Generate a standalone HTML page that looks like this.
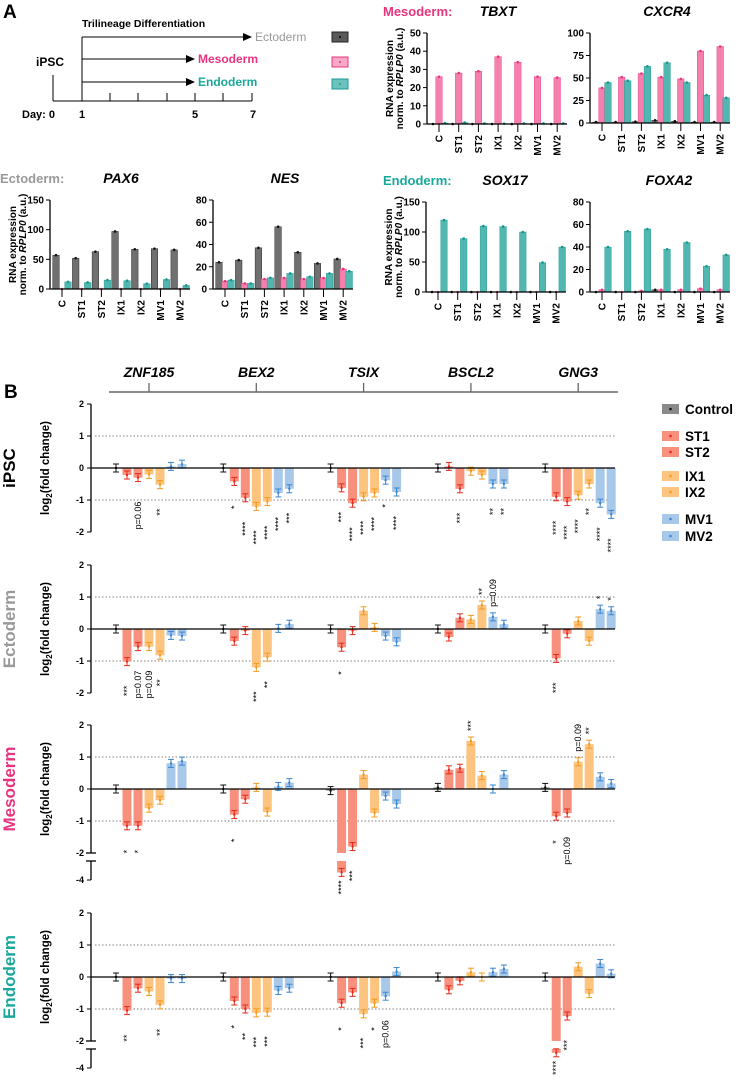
<!DOCTYPE html>
<html><head><meta charset="utf-8">
<style>
html,body{margin:0;padding:0;background:#fff;}
svg{display:block;font-family:"Liberation Sans",Arial,sans-serif;}
</style></head>
<body>
<svg id="fig" width="736" height="1077" viewBox="0 0 736 1077" xmlns="http://www.w3.org/2000/svg">
<g id="diagram">
  <text x="3" y="18" font-size="19" font-weight="bold">A</text>
  <text x="82" y="27" font-size="10.5" font-weight="bold">Trilineage Differentiation</text>
  <line x1="82" y1="37" x2="82" y2="101" stroke="#000" stroke-width="1"/>
  <line x1="82" y1="37" x2="245" y2="37" stroke="#000" stroke-width="1"/>
  <polygon points="243,33 252,37 243,41" fill="#000"/>
  <text x="255" y="41" font-size="12" fill="#999">Ectoderm</text>
  <line x1="82" y1="59" x2="188" y2="59" stroke="#000" stroke-width="1"/>
  <polygon points="186,55 195,59 186,63" fill="#000"/>
  <text x="198" y="63" font-size="12" font-weight="bold" fill="#e8347f">Mesoderm</text>
  <line x1="82" y1="82" x2="188" y2="82" stroke="#000" stroke-width="1"/>
  <polygon points="186,78 195,82 186,86" fill="#000"/>
  <text x="198" y="86" font-size="12" font-weight="bold" fill="#1aa89c">Endoderm</text>
  <text x="36" y="66" font-size="12" font-weight="bold">iPSC</text>
  <line x1="53" y1="75" x2="53" y2="101" stroke="#000" stroke-width="1"/>
  <line x1="53" y1="101" x2="252" y2="101" stroke="#000" stroke-width="1"/>
  <g stroke="#000" stroke-width="1">
    <line x1="110" y1="93" x2="110" y2="101"/><line x1="138" y1="93" x2="138" y2="101"/>
    <line x1="167" y1="93" x2="167" y2="101"/><line x1="195" y1="93" x2="195" y2="101"/>
    <line x1="223" y1="93" x2="223" y2="101"/><line x1="252" y1="93" x2="252" y2="101"/>
  </g>
  <g font-size="11" font-weight="bold">
    <text x="22" y="118">Day: 0</text>
    <text x="82" y="118" text-anchor="middle">1</text>
    <text x="195" y="118" text-anchor="middle">5</text>
    <text x="253" y="118" text-anchor="middle">7</text>
  </g>
  <g>
    <rect x="332" y="32" width="16" height="10" fill="#5a5a5a" stroke="#222"/>
    <circle cx="340" cy="37" r="1" fill="#000"/>
    <rect x="332" y="57" width="16" height="10" fill="#f9a9c6" stroke="#e8347f"/>
    <circle cx="340" cy="62" r="1" fill="#e8347f"/>
    <rect x="332" y="79" width="16" height="10" fill="#6cc3bd" stroke="#1a9b91"/>
    <circle cx="340" cy="84" r="1" fill="#1a9b91"/>
  </g>
</g>
<g id="panelA"></g>
<g id="panelB"></g>
</svg>
<script>
const catsA = ["C","ST1","ST2","IX1","IX2","MV1","MV2"];
const tbxtBlack = [0,0,0,0,0,0,0];
const tbxtPink  = [26,28,29,37,34,26,25.5];
const tbxtTeal  = [0.5,0.8,0.3,0.2,0.3,0.3,0.3];
const cxcr4Black = [1,1,1.5,3,2,1,1];
const cxcr4Pink  = [39,51,55,51,49,80,85];
const cxcr4Teal  = [45,47,63,67,45,31,28];
const pax6Black = [57,52,63,97,67,68,66];
const pax6Pink  = [0,0,0,0,0,0,0];
const pax6Teal  = [12,11,15,14,9,16,6];
const nesBlack = [24,26,37,56,33,23,27];
const nesPink  = [7,5,9,10,9,10,18];
const nesTeal  = [8,5,10,14,11,14,16];
const sox17Black = [0,0,0,0,0,0,0];
const sox17Pink  = [0,0,0,0,0,0,0];
const sox17Teal  = [120,89,110,109,100,49,75];
const foxa2Black = [0,0,0,2,0,0,0];
const foxa2Pink  = [2,0,1,2,2,3,2];
const foxa2Teal  = [40,54,56,38,44,23,33];
const ticksTBXT = [0,10,20,30,40,50];
const ticksCXCR4 = [0,25,50,75,100];
const ticksPAX6 = [0,50,100,150];
const ticksNES = [0,20,40,60,80];
const ticksSOX17 = [0,50,100,150];
const ticksFOXA2 = [0,20,40,60,80];

const genesB = ["ZNF185","BEX2","TSIX","BSCL2","GNG3"];
const groupsB = ["Control","ST1","ST2","IX1","IX2","MV1","MV2"];
const ipscZNF185=[0,-0.22,-0.3,-0.2,-0.52,0.05,0.12];
const ipscBEX2=[0,-0.42,-0.93,-1.2,-1.05,-0.78,-0.65];
const ipscTSIX=[0,-0.62,-1.1,-0.9,-0.78,-0.38,-0.75];
const ipscBSCL2=[0,0.05,-0.65,-0.1,-0.22,-0.5,-0.5];
const ipscGNG3=[0,-0.9,-1.05,-0.85,-0.5,-1.1,-1.45];
const ectoZNF185=[0,-1.02,-0.55,-0.55,-0.82,-0.2,-0.22];
const ectoBEX2=[0,-0.38,-0.05,-1.2,-0.88,0.02,0.15];
const ectoTSIX=[0,-0.57,-0.05,0.57,0.05,-0.22,-0.4];
const ectoBSCL2=[0,-0.25,0.35,0.3,0.75,0.38,0.15];
const ectoGNG3=[0,-0.92,-0.15,0.25,-0.38,0.62,0.57];
const mesoZNF185=[0,-1.15,-1.15,-0.6,-0.35,0.8,0.87];
const mesoBEX2=[0,-0.8,-0.32,0.05,-0.72,0.08,0.2];
const mesoTSIX=[-0.05,-3.2,-1.8,0.45,-0.75,-0.22,-0.47];
const mesoBSCL2=[0.05,0.6,0.65,1.5,0.42,0,0.45];
const mesoGNG3=[0.05,-0.85,-0.75,0.85,1.4,0.38,0.17];
const endoZNF185=[0,-1.05,-0.35,-0.45,-0.87,-0.05,-0.05];
const endoBEX2=[0,-0.75,-1.0,-1.12,-1.1,-0.42,-0.35];
const endoTSIX=[0,-0.82,-0.48,-1.15,-0.82,-0.6,0.17];
const endoBSCL2=[0,-0.4,-0.12,0.15,0,0.15,0.25];
const endoGNG3=[0,-2.4,-1.22,0.32,-0.52,0.42,0.1];
const ticksB = [2,1,0,-1,-2];
const sigIPSC=[[0,2,"p=0.06",0],[0,4,"**",0],[1,1,"*",0],[1,2,"****",0],[1,3,"****",0],[1,4,"****",0],[1,5,"****",0],[1,6,"***",0],[2,1,"***",0],[2,2,"****",0],[2,3,"****",0],[2,4,"****",0],[2,5,"*",0],[2,6,"****",0],[3,2,"***",0],[3,5,"**",0],[3,6,"**",0],[4,1,"****",0],[4,2,"****",0],[4,3,"****",0],[4,4,"**",0],[4,5,"****",0],[4,6,"****",0]];
const sigECTO=[[0,1,"***",0],[0,2,"p=0.07",0],[0,3,"p=0.09",0],[0,4,"**",0],[1,3,"***",0],[1,4,"**",0],[2,1,"*",0],[3,4,"**",1],[3,5,"p=0.09",1],[4,1,"***",0],[4,5,"*",1],[4,6,"*",1]];
const sigMESO=[[0,1,"*",0],[0,2,"*",0],[1,1,"*",0],[2,1,"****",0],[2,2,"***",0],[3,3,"***",1],[4,1,"*",0],[4,2,"p=0.09",0],[4,3,"p=0.09",1],[4,4,"**",1]];
const sigENDO=[[0,1,"**",0],[0,4,"**",0],[1,1,"*",0],[1,2,"**",0],[1,3,"***",0],[1,4,"***",0],[2,1,"*",0],[2,3,"***",0],[2,4,"*",0],[2,5,"p=0.06",0],[4,1,"****",0],[4,2,"***",0]];

const NS="http://www.w3.org/2000/svg";
function mk(tag,attrs,parent){const e=document.createElementNS(NS,tag);for(const k in attrs)e.setAttribute(k,attrs[k]);parent.appendChild(e);return e;}

const gA=document.getElementById("panelA");
function chartA(name,cfg,black,pink,teal,ticks){
  const g=mk("g",{},gA);
  
  
  const yS=v=>cfg.y0-(v/cfg.max)*(cfg.y0-cfg.top);
  const xS=i=>cfg.ax+12+i*19.7;
  const series=[[black,"#707070","#111",-6],[pink,"#f57fad","#e8347f",0],[teal,"#52b7b1","#13978d",6]];
  series.forEach((s,si)=>{
    s[0].forEach((v,i)=>{
      const x=xS(i)+s[3];
      const h=Math.max(cfg.y0-yS(v),0);
      const r=mk("rect",{x:x-3.3,y:yS(v),width:6.6,height:h,fill:s[1],stroke:s[2],"stroke-width":0.4},g);
      
      
      mk("circle",{cx:x,cy:yS(v),r:1.3,fill:s[2]},g);
    });
  });
  const ya=mk("line",{x1:cfg.ax,y1:cfg.top,x2:cfg.ax,y2:cfg.y0,stroke:"#000","stroke-width":1.3},g);
  
  
  const xa=mk("line",{x1:cfg.ax,y1:cfg.y0,x2:cfg.ax+140,y2:cfg.y0,stroke:"#000","stroke-width":1.3},g);
  
  
  ticks.forEach(t=>{
    mk("line",{x1:cfg.ax-4,y1:yS(t),x2:cfg.ax,y2:yS(t),stroke:"#000","stroke-width":1},g);
    const tl=mk("text",{x:cfg.ax-6,y:yS(t)+3.5,"font-size":10,"font-weight":"bold","text-anchor":"end"},g);
    tl.textContent=t;
    
    
  });
  catsA.forEach((c,i)=>{
    mk("line",{x1:xS(i),y1:cfg.y0,x2:xS(i),y2:cfg.y0+8,stroke:"#000","stroke-width":1},g);
    const t=mk("text",{x:0,y:0,"font-size":10,"font-weight":"bold","text-anchor":"end",transform:`translate(${xS(i)+3.5},${cfg.y0+11}) rotate(-90)`},g);
    t.textContent=c;
    
    
  });
  const ti=mk("text",{x:cfg.ax+cfg.tx,y:cfg.ty,"font-size":14,"font-weight":"bold","font-style":"italic","text-anchor":"middle"},g);
  ti.textContent=cfg.title;
  
  
  if(cfg.ytitle){
    const yt=mk("text",{x:0,y:0,"font-size":10,"font-weight":"bold","text-anchor":"middle",transform:`translate(${cfg.ax-34},${(cfg.top+cfg.y0)/2}) rotate(-90)`},g);
    yt.textContent="RNA expression";
    
    
    const yt2=mk("text",{x:0,y:0,"font-size":10,"font-weight":"bold","text-anchor":"middle",transform:`translate(${cfg.ax-24},${(cfg.top+cfg.y0)/2}) rotate(-90)`},g);
    yt2.innerHTML='norm. to <tspan font-style="italic">RPLP0</tspan> (a.u.)';
    
    
  }
}
chartA("tbxt",{ax:427,y0:124,top:33,max:50,title:"TBXT",tx:71,ty:16,ytitle:1},tbxtBlack,tbxtPink,tbxtTeal,ticksTBXT);
chartA("cxcr4",{ax:590,y0:123,top:33,max:100,title:"CXCR4",tx:77,ty:16},cxcr4Black,cxcr4Pink,cxcr4Teal,ticksCXCR4);
chartA("pax6",{ax:50,y0:289,top:200,max:150,title:"PAX6",tx:71,ty:183,ytitle:1},pax6Black,pax6Pink,pax6Teal,ticksPAX6);
chartA("nes",{ax:213,y0:289,top:200,max:80,title:"NES",tx:72,ty:183},nesBlack,nesPink,nesTeal,ticksNES);
chartA("sox17",{ax:426,y0:292,top:202,max:150,title:"SOX17",tx:79,ty:185,ytitle:1},sox17Black,sox17Pink,sox17Teal,ticksSOX17);
chartA("foxa2",{ax:590,y0:292,top:202,max:80,title:"FOXA2",tx:79,ty:185},foxa2Black,foxa2Pink,foxa2Teal,ticksFOXA2);
function headA(txt,x,y,col,name){
  const t=mk("text",{x:x,y:y,"font-size":13,"font-weight":"bold",fill:col},gA);
  t.textContent=txt;
  
  
}
headA("Mesoderm:",383,16,"#e8347f","mesoderm-heading");
headA("Ectoderm:",0,183,"#999","ectoderm-heading");
headA("Endoderm:",383,185,"#1aa89c","endoderm-heading");

const gB=document.getElementById("panelB");
const AX=91, UNIT=32, GENE0=149, GSTEP=107.3, XEND=615;
const fillsB=["#8a8a8a","#f8907e","#f8907e","#fdc47f","#fdc47f","#a8c8ea","#a8c8ea"];
const dotsB=["#111","#e8281a","#e8281a","#f39a1f","#f39a1f","#3a85cf","#3a85cf"];
function xB(gi,i){return GENE0+gi*GSTEP+(i-3)*11;}
function panelB(name,label,labelCol,zero,broken,data,sig){
  const g=mk("g",{},gB);
  
  
  const brkTop=zero+2*UNIT+8;
  const yS=v=> v>=-2 ? zero-v*UNIT : brkTop+(-2-v)*9.5;
  [1,-1].forEach(v=>{
    const l=mk("line",{x1:AX+4,y1:yS(v),x2:XEND,y2:yS(v),stroke:"#555","stroke-width":0.8,"stroke-dasharray":"1.5,2"},g);
    
    
  });
  data.forEach((arr,gi)=>{
    arr.forEach((v,i)=>{
      const x=xB(gi,i), w=9;
      if(v< -2 && broken){
        const r1=mk("rect",{x:x-w/2,y:zero,width:w,height:yS(-2)-zero,fill:fillsB[i]},g);
        
        
        const r2=mk("rect",{x:x-w/2,y:brkTop,width:w,height:yS(v)-brkTop,fill:fillsB[i]},g);
        
        
      } else {
        const y=Math.min(yS(v),zero), h=Math.abs(yS(v)-zero);
        const r=mk("rect",{x:x-w/2,y:y,width:w,height:Math.max(h,0.5),fill:fillsB[i]},g);
        
        
      }
      mk("line",{x1:x,y1:yS(v)-4,x2:x,y2:yS(v)+4,stroke:dotsB[i],"stroke-width":1},g);
      mk("line",{x1:x-3,y1:yS(v)-4,x2:x+3,y2:yS(v)-4,stroke:dotsB[i],"stroke-width":1},g);
      mk("line",{x1:x-3,y1:yS(v)+4,x2:x+3,y2:yS(v)+4,stroke:dotsB[i],"stroke-width":1},g);
      mk("circle",{cx:x,cy:yS(v),r:1.2,fill:dotsB[i]},g);
    });
  });
  const z=mk("line",{x1:AX,y1:zero,x2:XEND,y2:zero,stroke:"#000","stroke-width":1.3},g);
  
  
  const ya=mk("line",{x1:AX,y1:yS(2),x2:AX,y2:yS(-2),stroke:"#000","stroke-width":1.3},g);
  
  
  ticksB.forEach(t=>{
    mk("line",{x1:AX-4,y1:yS(t),x2:AX,y2:yS(t),stroke:"#000","stroke-width":1},g);
    const tl=mk("text",{x:AX-7,y:yS(t)+3,"font-size":9,"font-weight":"bold","text-anchor":"end"},g);
    tl.textContent=t;
    
    
  });
  if(broken){
    mk("line",{x1:AX-5,y1:yS(-2),x2:AX+5,y2:yS(-2),stroke:"#000","stroke-width":1.3},g);
    mk("line",{x1:AX-5,y1:brkTop,x2:AX+5,y2:brkTop,stroke:"#000","stroke-width":1.3},g);
    const ya2=mk("line",{x1:AX,y1:brkTop,x2:AX,y2:yS(-4),stroke:"#000","stroke-width":1.3},g);
    
    
    mk("line",{x1:AX-4,y1:yS(-4),x2:AX,y2:yS(-4),stroke:"#000","stroke-width":1},g);
    const tl=mk("text",{x:AX-7,y:yS(-4)+3,"font-size":9,"font-weight":"bold","text-anchor":"end"},g);
    tl.textContent="-4";
    
    
  }
  const yt=mk("text",{x:0,y:0,"font-size":11.5,"font-weight":"bold","text-anchor":"middle",transform:`translate(49,${zero}) rotate(-90)`},g);
  yt.innerHTML='log<tspan font-size="8" dy="3">2</tspan><tspan dy="-3">(fold change)</tspan>';
  
  
  const rl=mk("text",{x:0,y:0,"font-size":17,"font-weight":"bold","text-anchor":"middle",fill:labelCol,transform:`translate(15,${zero}) rotate(-90)`},g);
  rl.textContent=label;
  
  
  sig.forEach(s=>{
    const v=data[s[0]][s[1]], x=xB(s[0],s[1]);
    let t;
    if(s[3]){
      const yb=yS(Math.max(v,0))-10;
      t=mk("text",{x:0,y:0,"font-size":9,"text-anchor":"start",transform:`translate(${x+3},${yb}) rotate(-90)`},g);
    } else {
      const yt=yS(Math.min(v,0))+(v< -2?8:24);
      t=mk("text",{x:0,y:0,"font-size":9,"text-anchor":"end",transform:`translate(${x+3},${yt}) rotate(-90)`},g);
    }
    t.textContent=s[2];
    
    
  });
}
(function(){
  const g=mk("g",{},gB);
  
  
  const t0=mk("text",{x:4,y:398,"font-size":19,"font-weight":"bold"},g);
  t0.textContent="B";
  
  
  mk("line",{x1:109,y1:392,x2:618,y2:392,stroke:"#666","stroke-width":1.5},g);
  genesB.forEach((gn,gi)=>{
    const x=GENE0+gi*GSTEP;
    mk("line",{x1:x,y1:383,x2:x,y2:392,stroke:"#666","stroke-width":1.3},g);
    const t=mk("text",{x:x,y:377,"font-size":14,"font-weight":"bold","font-style":"italic","text-anchor":"middle"},g);
    t.textContent=gn;
    
    
  });
})();
panelB("ipsc","iPSC","#000",468,false,[ipscZNF185,ipscBEX2,ipscTSIX,ipscBSCL2,ipscGNG3],sigIPSC);
panelB("ectoderm","Ectoderm","#999",629,false,[ectoZNF185,ectoBEX2,ectoTSIX,ectoBSCL2,ectoGNG3],sigECTO);
panelB("mesoderm","Mesoderm","#e8347f",789,true,[mesoZNF185,mesoBEX2,mesoTSIX,mesoBSCL2,mesoGNG3],sigMESO);
panelB("endoderm","Endoderm","#1aa89c",977,true,[endoZNF185,endoBEX2,endoTSIX,endoBSCL2,endoGNG3],sigENDO);
(function(){
  const g=mk("g",{},gB);
  
  
  const ys=[409,436,452,476,492,519,536];
  groupsB.forEach((n,i)=>{
    const r=mk("rect",{x:662,y:ys[i]-5,width:17,height:10,fill:fillsB[i]},g);
    
    
    mk("circle",{cx:670.5,cy:ys[i],r:1.3,fill:dotsB[i]},g);
    const t=mk("text",{x:685,y:ys[i]+5,"font-size":13.5,"font-weight":"bold"},g);
    t.textContent=n;
    
    
  });
})();
</script>
</body></html>
